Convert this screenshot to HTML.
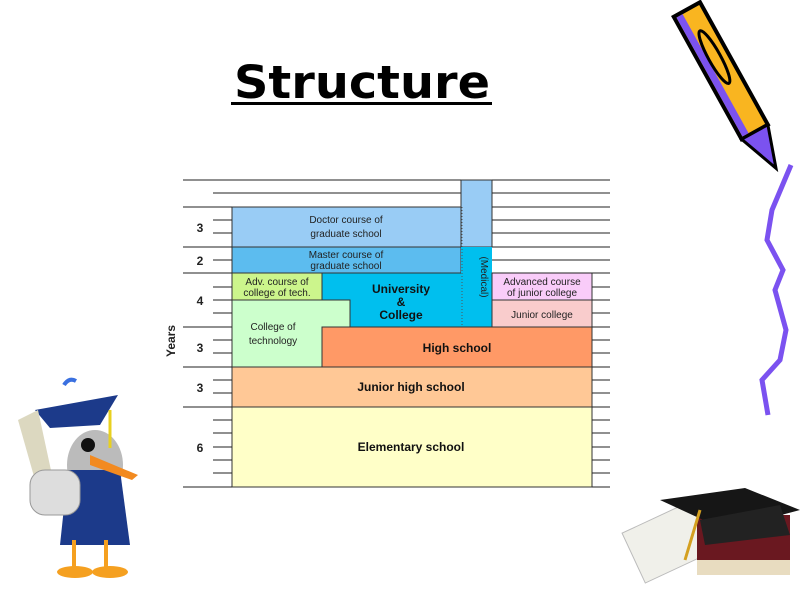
<!DOCTYPE html>
<html><head><meta charset="utf-8"><style>
html,body{margin:0;padding:0;background:#fff;}
svg{display:block;}
text{font-family:"Liberation Sans",sans-serif;}
</style></head><body>
<svg width="800" height="600" viewBox="0 0 800 600" xmlns="http://www.w3.org/2000/svg">
<rect width="800" height="600" fill="#fff"/>
<text x="362" y="98" text-anchor="middle" font-size="45" font-weight="bold" fill="#000" style="font-family:'DejaVu Sans',sans-serif" textLength="256" lengthAdjust="spacingAndGlyphs">Structure</text>
<rect x="231" y="102" width="261" height="3" fill="#000"/>

<!-- boxes -->
<g stroke="#333" stroke-width="1">
<rect x="232" y="207" width="229" height="40" fill="#99ccf5"/>
<rect x="461" y="180" width="31" height="67" fill="#99ccf5"/>
<rect x="232" y="247" width="229" height="26" fill="#5cbcef"/>
<polygon points="322,273 492,273 492,327 350,327 350,300 322,300" fill="#00bfee"/>
<rect x="461" y="247" width="31" height="80" fill="#00bfee" stroke="none"/>
<rect x="232" y="273" width="90" height="27" fill="#ccf58c"/>
<polygon points="232,300 350,300 350,327 322,327 322,367 232,367" fill="#ccffcc"/>
<rect x="492" y="273" width="100" height="27" fill="#f9ccf9"/>
<rect x="492" y="300" width="100" height="27" fill="#f9cccc"/>
<rect x="322" y="327" width="270" height="40" fill="#ff9966"/>
<rect x="232" y="367" width="360" height="40" fill="#ffc896"/>
<rect x="232" y="407" width="360" height="80" fill="#ffffc8"/>
</g>
<line x1="462" y1="207" x2="462" y2="327" stroke="#555" stroke-dasharray="1,2"/>

<!-- grid lines -->
<g stroke="#222" stroke-width="1">
<line x1="183" y1="180" x2="461" y2="180"/><line x1="492" y1="180" x2="610" y2="180"/>
<line x1="213" y1="193" x2="461" y2="193"/><line x1="492" y1="193" x2="610" y2="193"/>
<line x1="183" y1="207" x2="232" y2="207"/><line x1="492" y1="207" x2="610" y2="207"/>
<line x1="213" y1="220" x2="232" y2="220"/><line x1="492" y1="220" x2="610" y2="220"/>
<line x1="213" y1="233" x2="232" y2="233"/><line x1="492" y1="233" x2="610" y2="233"/>
<line x1="183" y1="247" x2="232" y2="247"/><line x1="492" y1="247" x2="610" y2="247"/>
<line x1="213" y1="260" x2="232" y2="260"/><line x1="492" y1="260" x2="610" y2="260"/>
<line x1="183" y1="273" x2="232" y2="273"/><line x1="492" y1="273" x2="610" y2="273"/>
<line x1="213" y1="287" x2="232" y2="287"/><line x1="592" y1="287" x2="610" y2="287"/>
<line x1="213" y1="300" x2="232" y2="300"/><line x1="592" y1="300" x2="610" y2="300"/>
<line x1="213" y1="313" x2="232" y2="313"/><line x1="592" y1="313" x2="610" y2="313"/>
<line x1="183" y1="327" x2="232" y2="327"/><line x1="592" y1="327" x2="610" y2="327"/>
<line x1="213" y1="340" x2="232" y2="340"/><line x1="592" y1="340" x2="610" y2="340"/>
<line x1="213" y1="353" x2="232" y2="353"/><line x1="592" y1="353" x2="610" y2="353"/>
<line x1="183" y1="367" x2="232" y2="367"/><line x1="592" y1="367" x2="610" y2="367"/>
<line x1="213" y1="380" x2="232" y2="380"/><line x1="592" y1="380" x2="610" y2="380"/>
<line x1="213" y1="393" x2="232" y2="393"/><line x1="592" y1="393" x2="610" y2="393"/>
<line x1="183" y1="407" x2="232" y2="407"/><line x1="592" y1="407" x2="610" y2="407"/>
<line x1="213" y1="420" x2="232" y2="420"/><line x1="592" y1="420" x2="610" y2="420"/>
<line x1="213" y1="433" x2="232" y2="433"/><line x1="592" y1="433" x2="610" y2="433"/>
<line x1="213" y1="447" x2="232" y2="447"/><line x1="592" y1="447" x2="610" y2="447"/>
<line x1="213" y1="460" x2="232" y2="460"/><line x1="592" y1="460" x2="610" y2="460"/>
<line x1="213" y1="473" x2="232" y2="473"/><line x1="592" y1="473" x2="610" y2="473"/>
<line x1="183" y1="487" x2="232" y2="487"/><line x1="592" y1="487" x2="610" y2="487"/>
</g>

<!-- labels -->
<g font-size="12" font-weight="bold" fill="#222" text-anchor="middle">
<text x="200" y="232">3</text><text x="200" y="265">2</text><text x="200" y="305">4</text>
<text x="200" y="352">3</text><text x="200" y="392">3</text><text x="200" y="452">6</text>
<text transform="translate(175,341) rotate(-90)" font-size="12">Years</text>
</g>
<g font-size="10" fill="#222" text-anchor="middle">
<text x="346" y="223">Doctor course of</text><text x="346" y="237">graduate school</text>
<text x="346" y="258">Master course of</text><text x="346" y="269">graduate school</text>
<text x="277" y="285">Adv. course of</text><text x="277" y="296">college of tech.</text>
<text x="273" y="330">College of</text><text x="273" y="344">technology</text>
<text x="542" y="285">Advanced course</text><text x="542" y="296">of junior college</text>
<text x="542" y="318">Junior college</text>
<text transform="translate(481,277) rotate(90)" font-size="10">(Medical)</text>
</g>
<g font-size="12" font-weight="bold" fill="#111" text-anchor="middle">
<text x="401" y="293">University</text><text x="401" y="306">&amp;</text><text x="401" y="319">College</text>
<text x="457" y="352">High school</text>
<text x="411" y="391">Junior high school</text>
<text x="411" y="451">Elementary school</text>
</g>

<!-- pencil -->
<g transform="translate(686,10) rotate(-29)">
<rect x="-14" y="0" width="30" height="140" fill="#f9b520" stroke="#000" stroke-width="4"/>
<rect x="-12" y="2" width="7" height="136" fill="#7b52f0"/>
<ellipse cx="2" cy="55" rx="6" ry="30" fill="none" stroke="#000" stroke-width="3"/>
<polygon points="-14,140 16,140 2,182" fill="#7b52f0" stroke="#000" stroke-width="3"/>
</g>
<polyline points="791,165 772,210 767,240 783,270 775,290 786,330 780,360 762,380 768,415" fill="none" stroke="#7b52f0" stroke-width="5"/>

<!-- grad cap & book -->
<rect x="630" y="515" width="75" height="55" fill="#f0f0ea" stroke="#bbb" transform="rotate(-25 667 542)"/>
<rect x="697" y="515" width="93" height="45" fill="#6a1820"/>
<rect x="697" y="560" width="93" height="15" fill="#e8dcc0"/>
<polygon points="660,500 745,488 800,510 725,530" fill="#161616"/>
<polygon points="700,520 780,505 790,535 705,545" fill="#222"/>
<line x1="700" y1="510" x2="685" y2="560" stroke="#d4a020" stroke-width="3"/>

<!-- penguin -->
<ellipse cx="95" cy="465" rx="28" ry="35" fill="#bbb"/>
<polygon points="68,470 120,470 130,545 60,545" fill="#1c3a8a"/>
<polygon points="35,410 118,395 100,425 50,428" fill="#1c3a8a"/>
<line x1="110" y1="410" x2="110" y2="448" stroke="#e8d020" stroke-width="3"/>
<circle cx="88" cy="445" r="7" fill="#111"/>
<polygon points="90,455 138,475 132,480 90,465" fill="#f28a20"/>
<polygon points="18,420 38,410 52,475 35,480" fill="#dcd8c0"/>
<rect x="30" y="470" width="50" height="45" rx="15" fill="#ddd" stroke="#999"/>
<path d="M64,385 q5,-8 12,-4" stroke="#3a70e0" stroke-width="4" fill="none"/>
<ellipse cx="75" cy="572" rx="18" ry="6" fill="#f5a020"/>
<ellipse cx="110" cy="572" rx="18" ry="6" fill="#f5a020"/>
<rect x="72" y="540" width="4" height="30" fill="#f5a020"/><rect x="104" y="540" width="4" height="30" fill="#f5a020"/>
</svg>
</body></html>
